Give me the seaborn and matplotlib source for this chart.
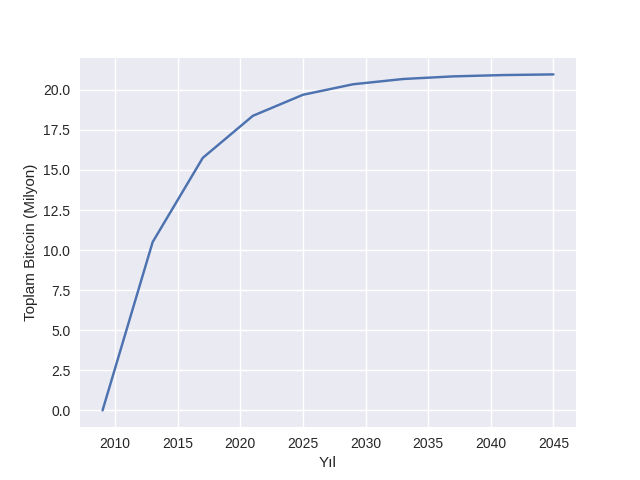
import matplotlib
matplotlib.use("Agg")
import matplotlib.pyplot as plt
from matplotlib.ticker import MultipleLocator
import seaborn as sns
import pandas as pd

years = [2009, 2013, 2017, 2021, 2025, 2029, 2033, 2037, 2041, 2045]
supply = [0.0, 10.5, 15.75, 18.375, 19.6875, 20.34375, 20.671875, 20.8359, 20.918, 20.959]

plt.style.use("seaborn-v0_8")
plt.rcParams['font.family'] = ['Liberation Sans', 'DejaVu Sans']
fig, ax = plt.subplots(figsize=(6.4, 4.8), dpi=100)
fig.subplots_adjust(left=0.125, right=0.9, bottom=0.11, top=0.88)
df = pd.DataFrame({"year": years, "supply": supply})
sns.lineplot(data=df, x="year", y="supply", ax=ax, color="#4c72b0", linewidth=1.75)
ax.set_xlabel("Yıl", fontsize=11)
ax.set_ylabel("Toplam Bitcoin (Milyon)", fontsize=11)
ax.tick_params(labelsize=10)
ax.yaxis.set_major_locator(MultipleLocator(2.5))
fig.savefig("out.png", dpi=100)
